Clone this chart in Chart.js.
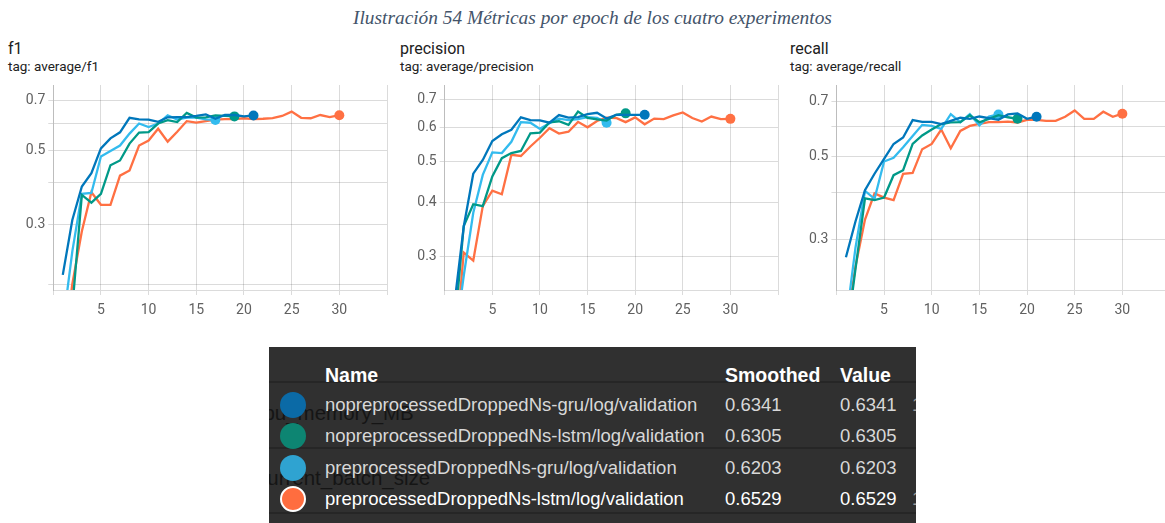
<!DOCTYPE html>
<html>
<head>
<meta charset="utf-8">
<script src="https://cdn.jsdelivr.net/npm/chart.js@4/dist/chart.umd.min.js"></script>
<style>
  body { margin: 0; width: 1165px; height: 523px; overflow: hidden; background: #fff; position: relative;
         font-family: Roboto, "Liberation Sans", Arial, sans-serif; }
  #caption { position: absolute; top: 7px; left: 353px; white-space: nowrap;
             font-family: "Liberation Serif", "DejaVu Serif", serif; font-style: italic; color: #44546a; }
  .title { position: absolute; color: #212121; font-size: 16px; white-space: nowrap; }
  .tag { position: absolute; color: #212121; font-size: 13.5px; white-space: nowrap; }
  canvas { position: absolute; top: 80px; }
  #legend { position: absolute; left: 269px; top: 347px; width: 647px; height: 176px; background: #303030;
            overflow: hidden; font-family: "Liberation Sans", Arial, sans-serif; }
  #legend .ghost { position: absolute; color: #151515; font-size: 20.5px; white-space: nowrap; line-height: 30px; }
  #legend .sep { position: absolute; left: 0; width: 647px; height: 2px; background: #262626; }
  #legend .cell { position: absolute; height: 30px; line-height: 30px; white-space: nowrap; color: #d8d8d8; font-size: 18.5px; }
  #legend .head { font-weight: bold; color: #fff; font-size: 19.5px; }
  #legend .dot { position: absolute; width: 26px; height: 26px; border-radius: 50%; box-sizing: border-box; }
</style>
</head>
<body>
<div id="caption">Ilustración 54 Métricas por epoch de los cuatro experimentos</div>

<div class="title" style="left:8px;top:39px">f1</div>
<div class="tag" style="left:8px;top:58px">tag: average/f1</div>
<div class="title" style="left:400px;top:39px">precision</div>
<div class="tag" style="left:400px;top:58px">tag: average/precision</div>
<div class="title" style="left:790px;top:39px">recall</div>
<div class="tag" style="left:790px;top:58px">tag: average/recall</div>

<canvas id="f1Chart" width="392" height="245" style="left:0px"></canvas>
<canvas id="precisionChart" width="392" height="245" style="left:392px"></canvas>
<canvas id="recallChart" width="392" height="245" style="left:784px"></canvas>

<div id="legend"></div>

<script>
const epochs = [1, 2, 3, 4, 5, 6, 7, 8, 9, 10, 11, 12, 13, 14, 15, 16, 17, 18, 19, 20,
  21, 22, 23, 24, 25, 26, 27, 28, 29, 30];

const runNames = [
  "nopreprocessedDroppedNs-gru/log/validation",
  "nopreprocessedDroppedNs-lstm/log/validation",
  "preprocessedDroppedNs-gru/log/validation",
  "preprocessedDroppedNs-lstm/log/validation",
];
const runColors = ["#0077bb", "#009988", "#33bbee", "#ff7043"];
const dotColors = ["#0b6aa6", "#0d8572", "#2fa3d1", "#ff6d3f"];
const smoothedValues = ["0.6341", "0.6305", "0.6203", "0.6529"];
const lastValues = ["0.6341", "0.6305", "0.6203", "0.6529"];

// f1 per epoch
const f1NoGru = [0.213, 0.31, 0.39, 0.427, 0.506, 0.542, 0.565, 0.624, 0.617, 0.616, 0.607,
  0.626, 0.627, 0.627, 0.632, 0.639, 0.62, 0.636, 0.636, 0.63, 0.634];
const f1NoLstm = [0.1, 0.17, 0.368, 0.349, 0.371, 0.451, 0.466, 0.523, 0.564, 0.566, 0.6,
  0.614, 0.606, 0.645, 0.625, 0.626, 0.634, 0.632, 0.63];
const f1PreGru = [0.15, 0.25, 0.371, 0.373, 0.479, 0.497, 0.516, 0.56, 0.6, 0.586, 0.6,
  0.635, 0.617, 0.625, 0.625, 0.617, 0.615];
const f1PreLstm = [0.12, 0.2, 0.287, 0.375, 0.344, 0.344, 0.42, 0.435, 0.516, 0.534, 0.579,
  0.53, 0.567, 0.61, 0.604, 0.61, 0.616, 0.618, 0.618, 0.622, 0.618, 0.62, 0.623, 0.632,
  0.651, 0.624, 0.622, 0.636, 0.627, 0.635];

// precision per epoch
const precNoGru = [0.23, 0.352, 0.468, 0.504, 0.558, 0.579, 0.593, 0.634, 0.625, 0.624, 0.616,
  0.642, 0.633, 0.635, 0.645, 0.65, 0.63, 0.643, 0.643, 0.643, 0.643];
const precNoLstm = [0.2, 0.353, 0.397, 0.393, 0.461, 0.509, 0.523, 0.529, 0.582, 0.584, 0.617,
  0.621, 0.609, 0.654, 0.632, 0.627, 0.623, 0.643, 0.648];
const precPreGru = [0.185, 0.27, 0.379, 0.465, 0.525, 0.523, 0.556, 0.618, 0.616, 0.596, 0.614,
  0.63, 0.625, 0.628, 0.635, 0.632, 0.616];
const precPreLstm = [0.17, 0.306, 0.293, 0.393, 0.427, 0.419, 0.518, 0.515, 0.542, 0.568, 0.598,
  0.581, 0.587, 0.619, 0.601, 0.622, 0.633, 0.632, 0.618, 0.634, 0.611, 0.63, 0.628, 0.641,
  0.651, 0.632, 0.62, 0.637, 0.628, 0.629];

// recall per epoch
const recNoGru = [0.269, 0.335, 0.406, 0.449, 0.492, 0.539, 0.561, 0.624, 0.617, 0.617, 0.609,
  0.621, 0.633, 0.629, 0.638, 0.632, 0.625, 0.646, 0.65, 0.629, 0.637];
const recNoLstm = [0.16, 0.25, 0.386, 0.382, 0.388, 0.445, 0.459, 0.539, 0.568, 0.589, 0.609,
  0.615, 0.616, 0.643, 0.616, 0.629, 0.643, 0.635, 0.629];
const recPreGru = [0.18, 0.285, 0.404, 0.385, 0.484, 0.495, 0.528, 0.566, 0.606, 0.602, 0.591,
  0.647, 0.616, 0.647, 0.604, 0.638, 0.646];
const recPreLstm = [0.17, 0.254, 0.339, 0.398, 0.388, 0.382, 0.449, 0.451, 0.522, 0.539, 0.589,
  0.525, 0.584, 0.602, 0.61, 0.616, 0.616, 0.618, 0.615, 0.625, 0.625, 0.621, 0.621, 0.637,
  0.662, 0.629, 0.629, 0.657, 0.637, 0.649];

const yGrid = [0.2, 0.3, 0.4, 0.5, 0.6, 0.7];
const xTicks = [5, 10, 15, 20, 25, 30];

const gridColor = "rgba(0,0,0,0.14)";
const tickColor = "#616161";

// fixed axis sizes so the plot area lands where it should
function pinAxis(s, size) {
  if (s.isHorizontal()) s.height = size; else s.width = size;
  s.paddingTop = 0; s.paddingBottom = 0; s.paddingLeft = 0; s.paddingRight = 0;
}

function makePanel(id, series, opts) {
  const datasets = series.map((vals, r) => ({
    label: runNames[r],
    data: vals.map((v, i) => ({ x: epochs[i], y: v })),
    borderColor: runColors[r],
    backgroundColor: runColors[r],
    borderWidth: 2.3,
    tension: 0,
    pointRadius: (c) => (c.dataIndex === vals.length - 1 ? 5 : 0),
    pointBorderWidth: 0,
    pointHoverRadius: 0,
  }));

  new Chart(document.getElementById(id), {
    type: "line",
    data: { datasets },
    options: {
      responsive: false,
      animation: false,
      events: [],
      layout: { padding: { top: 5, right: opts.padRight, left: 0, bottom: 0 } },
      plugins: { legend: { display: false }, tooltip: { enabled: false } },
      scales: {
        x: {
          type: "linear",
          min: 0,
          max: 35,
          afterBuildTicks: (s) => { s.ticks = [0, ...xTicks, 35].map((v) => ({ value: v })); },
          afterFit: (s) => pinAxis(s, 35),
          grid: { color: gridColor, tickLength: 5 },
          border: { color: gridColor },
          ticks: {
            color: tickColor,
            font: { family: "Roboto", size: 14 },
            padding: 7,
            maxRotation: 0,
            autoSkip: false,
            callback: (v) => (xTicks.includes(v) ? String(v) : ""),
          },
        },
        y: {
          type: "logarithmic",
          min: opts.min,
          max: opts.max,
          afterBuildTicks: (s) => {
            s.ticks = yGrid.filter((v) => v >= opts.min && v <= opts.max).map((v) => ({ value: v }));
          },
          afterFit: (s) => pinAxis(s, opts.yWidth),
          grid: { color: gridColor, tickLength: 5 },
          border: { color: gridColor },
          ticks: {
            color: tickColor,
            font: { family: "Roboto", size: 14 },
            padding: 3,
            autoSkip: false,
            callback: (v) => (opts.labels.some((l) => Math.abs(l - v) < 1e-6) ? v.toFixed(1) : ""),
          },
        },
      },
    },
  });
}

makePanel("f1Chart", [f1NoGru, f1NoLstm, f1PreGru, f1PreLstm],
  { min: 0.192, max: 0.781, labels: [0.3, 0.5, 0.7], yWidth: 53.25, padRight: 4.7 });
makePanel("precisionChart", [precNoGru, precNoLstm, precPreGru, precPreLstm],
  { min: 0.251, max: 0.755, labels: [0.3, 0.4, 0.5, 0.6, 0.7], yWidth: 52.7, padRight: 6 });
makePanel("recallChart", [recNoGru, recNoLstm, recPreGru, recPreLstm],
  { min: 0.224, max: 0.774, labels: [0.3, 0.5, 0.7], yWidth: 52.4, padRight: 6 });

// caption sized to its printed width
const caption = document.getElementById("caption");
caption.style.fontSize = "18px";
const cw = caption.getBoundingClientRect().width;
caption.style.fontSize = (18 * 479 / cw).toFixed(2) + "px";

// run table under the charts
const legend = document.getElementById("legend");
function add(cls, text, style) {
  const el = document.createElement("div");
  el.className = cls;
  if (text) el.textContent = text;
  Object.assign(el.style, style);
  legend.appendChild(el);
  return el;
}
add("ghost", "gpu_memory_MB", { left: "-17px", top: "51px" });
add("ghost", "current_batch_size", { left: "-12px", top: "116px" });
[34, 100, 165].forEach((t) => add("sep", "", { top: t + "px" }));
add("cell head", "Name", { left: "56px", top: "13px" });
add("cell head", "Smoothed", { left: "456px", top: "13px" });
add("cell head", "Value", { left: "571px", top: "13px" });
const rowCenters = [58, 89, 121, 152];
runNames.forEach((name, r) => {
  const cy = rowCenters[r];
  const dot = add("dot", "", { left: "11px", top: cy - 13 + "px", background: dotColors[r] });
  if (r === 3) dot.style.border = "2.5px solid #fff";
  const color = r === 3 ? "#ffffff" : "#d8d8d8";
  add("cell", name, { left: "56px", top: cy - 15 + "px", color });
  add("cell", smoothedValues[r], { left: "456px", top: cy - 15 + "px", color });
  add("cell", lastValues[r], { left: "571px", top: cy - 15 + "px", color });
  if (r === 0 || r === 3) add("cell", "1", { left: "643px", top: cy - 15 + "px", color: "#9a9a9a" });
});
</script>
</body>
</html>
